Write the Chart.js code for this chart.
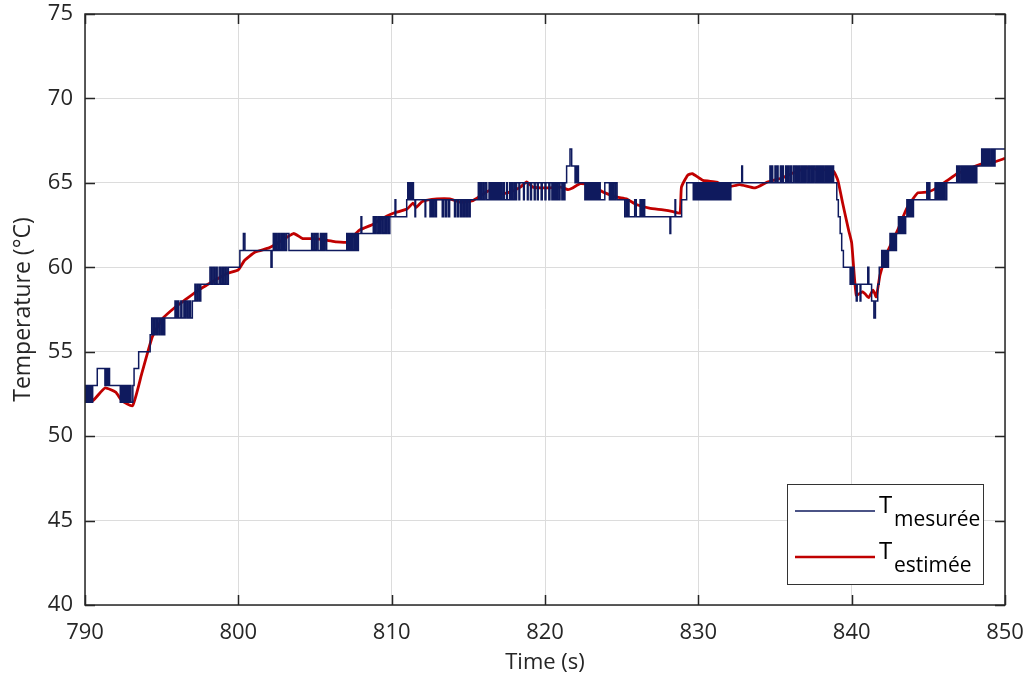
<!DOCTYPE html>
<html>
<head>
<meta charset="utf-8">
<script src="https://cdn.jsdelivr.net/npm/chart.js@4/dist/chart.umd.min.js"></script>
<style>
  html, body { margin: 0; padding: 0; background: #fff; }
  #wrap { width: 1028px; height: 681px; }
</style>
</head>
<body>
<div id="wrap"><canvas id="chart" width="1028" height="681"></canvas></div>
<script>
// axes
const xTicks = [790, 800, 810, 820, 830, 840, 850];
const yTicks = [40, 45, 50, 55, 60, 65, 70, 75];

// T mesurée : [temps (s), valeur (°C)], valeur tenue jusqu'au point suivant
const tMesuree = [
  [790,53],[790.05,52],[790.12,53],[790.18,52],[790.25,53],[790.3,52],[790.38,53],[790.45,52],[790.5,53],
  [790.8,54],[791.3,53],[791.36,54],[791.45,53],[791.52,54],[791.6,53],
  [792.3,52],[792.36,53],[792.42,52],[792.5,53],[792.56,52],[792.64,53],[792.7,52],[792.78,53],[792.85,52],[792.92,53],[793.0,52],
  [793.12,53],[793.2,54],[793.5,55],[794.25,56],[794.35,57],[794.45,56],[794.55,57],[794.65,56],[794.72,57],[794.82,56],[794.9,57],[795.0,56],[795.08,57],[795.15,56],[795.2,57],
  [795.87,58],[795.95,57],[796.05,58],[796.12,57],[796.25,58],[796.32,57],[796.45,58],[796.52,57],[796.6,58],[796.7,57],[796.8,58],[796.88,57],[797.0,58],
  [797.17,59],[797.25,58],[797.35,59],[797.45,58],[797.55,59],
  [798.15,60],[798.25,59],[798.35,60],[798.45,59],[798.55,60],[798.62,59],[798.75,60],[798.85,59],[798.95,60],[799.05,59],[799.15,60],[799.25,59],[799.35,60],
  [800.1,61],[800.33,62],[800.43,61],[802.13,60],[802.2,61],[802.28,62],[802.36,61],[802.45,62],[802.52,61],[802.62,62],[802.7,61],[802.8,62],[802.88,61],[802.97,62],[803.05,61],[803.15,62],[803.3,61],
  [804.78,62],[804.85,61],[804.95,62],[805.0,61],[805.1,62],[805.2,61],[805.35,62],[805.42,61],[805.5,62],[805.58,61],[805.66,62],[805.76,61],
  [807.07,62],[807.15,61],[807.22,62],[807.3,61],[807.38,62],[807.45,61],[807.55,62],[807.62,61],[807.7,62],[807.78,61],[807.83,62],
  [808.0,63],[808.05,62],
  [808.8,63],[808.88,62],[808.95,63],[809.05,62],[809.15,63],[809.22,62],[809.3,63],[809.4,62],[809.5,63],[809.6,62],[809.68,63],[809.78,62],[809.88,63],
  [810.22,64],[810.27,63],[810.98,64],[811.05,65],[811.12,64],[811.2,65],[811.28,64],[811.35,65],[811.42,64],[811.52,63],[811.56,64],[812.18,63],[812.22,64],
  [812.5,63],[812.58,64],[812.68,63],[812.75,64],[812.85,63],[812.92,64],[813.3,63],[813.38,64],[813.5,63],[813.58,64],[813.7,63],[813.78,64],
  [814.1,63],[814.18,64],[814.3,63],[814.38,64],[814.5,63],[814.58,64],[814.68,63],[814.76,64],[814.86,63],[814.95,64],[815.05,63],[815.12,64],
  [815.65,65],[815.72,64],[815.8,65],[815.85,64],[815.95,65],[816.0,64],[816.1,65],[816.2,64],[816.35,65],[816.42,64],[816.5,65],[816.55,64],[816.62,65],[816.68,64],
  [816.75,65],[816.8,64],[816.88,65],[816.95,64],[817.02,65],[817.08,64],[817.15,65],[817.2,64],[817.3,65],[817.35,64],[817.5,65],[817.55,64],[817.7,65],[817.76,64],
  [817.85,65],[817.9,64],[818.0,65],[818.06,64],[818.15,65],[818.3,64],[818.35,65],[818.6,64],[818.65,65],[818.85,64],[818.9,65],[819.05,64],[819.12,65],[819.3,64],
  [819.36,65],[819.5,64],[819.56,65],[819.75,64],[819.82,65],[820.0,64],[820.06,65],[820.25,64],[820.32,65],[820.45,64],[820.5,65],[820.58,64],[820.66,65],[820.75,64],
  [820.8,65],[820.9,64],[820.98,65],[821.1,64],[821.16,65],[821.25,64],[821.3,65],
  [821.41,66],[821.63,67],[821.74,66],[821.96,65],[822.0,66],[822.05,65],[822.1,66],[822.18,65],
  [822.6,64],[822.65,65],[822.72,64],[822.8,65],[822.88,64],[822.95,65],[823.0,64],[823.08,65],[823.15,64],[823.22,65],[823.3,64],[823.38,65],[823.45,64],[823.52,65],
  [823.6,64],[823.9,65],[824.2,64],[824.28,65],[824.35,64],[824.42,65],[824.5,64],[824.6,65],[824.7,64],
  [825.2,63],[825.3,64],[825.35,63],[825.42,64],[825.48,63],[825.85,64],[825.95,63],[826.2,64],[826.26,63],[826.32,64],[826.38,63],[826.45,64],[826.5,63],
  [828.15,62],[828.2,63],[828.48,64],[828.52,63],[828.91,64],[829.24,65],
  [829.67,64],[829.75,65],[829.8,64],[829.88,65],[829.95,64],[830.02,65],[830.1,64],[830.18,65],[830.25,64],[830.32,65],[830.4,64],[830.48,65],[830.55,64],[830.62,65],
  [830.7,64],[830.78,65],[830.85,64],[830.92,65],[831.0,64],[831.08,65],[831.15,64],[831.22,65],[831.3,64],[831.38,65],[831.45,64],[831.52,65],[831.6,64],[831.68,65],
  [831.75,64],[831.82,65],[831.9,64],[831.98,65],[832.05,64],[832.12,65],
  [832.83,66],[832.88,65],
  [834.67,66],[834.72,65],[834.8,66],[834.85,65],[835.0,66],[835.05,65],[835.15,66],[835.2,65],[835.35,66],[835.42,65],[835.5,66],[835.55,65],[835.7,66],[835.78,65],
  [835.85,66],[835.9,65],[836.0,66],[836.08,65],[836.2,66],[836.3,65],[836.38,66],[836.45,65],[836.55,66],[836.6,65],[836.7,66],[836.78,65],[836.85,66],[836.92,65],
  [837.0,66],[837.1,65],[837.2,66],[837.25,65],[837.35,66],[837.42,65],[837.5,66],[837.6,65],[837.7,66],[837.78,65],[837.85,66],[837.92,65],[838.0,66],[838.08,65],
  [838.15,66],[838.2,65],[838.3,66],[838.38,65],[838.45,66],[838.52,65],[838.6,66],[838.68,65],[838.75,66],[838.82,65],
  [839.03,64],[839.13,63],[839.25,62],[839.35,61],[839.46,60],[839.9,59],[839.96,60],[840.03,59],[840.08,60],[840.13,59],[840.3,58],[840.36,59],[840.55,58],[840.6,59],
  [841.05,60],[841.12,59],[841.3,58],[841.45,57],[841.55,58],[841.7,59],[841.8,60],
  [841.96,61],[842.02,60],[842.1,61],[842.17,60],[842.25,61],[842.32,60],[842.4,61],[842.5,62],[842.56,61],[842.64,62],[842.7,61],[842.78,62],[842.85,61],[842.92,62],
  [843.05,63],[843.12,62],[843.2,63],[843.28,62],[843.36,63],[843.45,62],[843.52,63],[843.6,64],[843.66,63],[843.74,64],[843.82,63],[843.9,64],[843.96,63],[844.03,64],
  [844.9,65],[844.98,64],[845.05,65],[845.1,64],[845.44,65],[845.5,64],[845.58,65],[845.65,64],[845.72,65],[845.8,64],[845.88,65],[845.95,64],[846.02,65],[846.1,64],[846.2,65],
  [846.85,66],[846.92,65],[847.0,66],[847.05,65],[847.15,66],[847.22,65],[847.3,66],[847.38,65],[847.45,66],[847.52,65],[847.6,66],[847.68,65],[847.75,66],[847.82,65],
  [847.9,66],[847.98,65],[848.05,66],[848.1,65],[848.16,66],
  [848.48,67],[848.55,66],[848.62,67],[848.7,66],[848.78,67],[848.85,66],[848.92,67],[849.0,66],[849.1,67],[849.18,66],[849.25,67],[849.3,66],[849.35,67],[850,67]
];

// T estimée : [temps (s), valeur (°C)]
const tEstimee = [
  [790,52.4],[790.5,52.1],[791.3,52.85],[792.0,52.6],[792.4,52.1],[793.1,51.8],[793.7,53.7],[794.4,55.9],[795.1,57.0],[795.9,57.65],
  [796.5,58.05],[797.4,58.65],[798.7,59.35],[799.3,59.65],[800.0,59.85],[800.4,60.4],[801.1,60.9],[802.0,61.15],[802.6,61.45],[803.6,62.0],
  [804.2,61.7],[804.9,61.7],[805.8,61.6],[806.4,61.5],[807.1,61.5],[807.9,62.2],[808.8,62.55],[809.2,62.8],[810.1,63.2],[811.0,63.45],
  [811.4,63.8],[811.6,63.55],[812.0,63.9],[812.95,64.05],[813.8,64.05],[814.5,63.85],[815.3,63.95],[815.9,64.3],[816.5,64.6],[816.9,64.3],
  [817.7,64.45],[818.4,64.75],[818.8,65.05],[819.2,64.75],[820.1,64.7],[821.0,64.75],[821.5,64.6],[821.8,64.7],[822.3,64.95],[822.9,64.9],
  [823.8,64.45],[824.7,64.15],[825.3,64.05],[826.0,63.7],[826.8,63.5],[827.7,63.4],[828.35,63.3],[828.8,63.2],[828.9,64.75],[829.3,65.45],
  [829.6,65.55],[830.3,65.15],[831.2,65.05],[831.9,64.75],[832.7,64.9],[833.7,64.7],[834.5,65.05],[835.5,65.3],[836.2,65.6],[837.2,65.9],
  [837.7,65.8],[838.8,65.7],[839.1,65.15],[839.4,63.85],[839.8,62.2],[840.0,61.45],[840.3,58.35],[840.7,58.55],[840.9,58.4],[841.1,58.2],
  [841.4,58.65],[841.6,58.25],[841.85,59.55],[842.3,60.85],[843.0,62.2],[843.6,63.5],[844.3,64.4],[844.9,64.45],[845.35,64.6],[846.25,65.15],
  [846.9,65.55],[847.7,65.85],[848.6,66.15],[849.2,66.2],[850,66.45]
];

const BLUE = '#0f1a5e';
const RED = '#c00000';
const FONT = 'Open Sans';

// cadre, graduations intérieures et légende
const cadrePlugin = {
  id: 'cadre',
  afterDraw(chart) {
    const ctx = chart.ctx;
    const a = chart.chartArea;
    const sx = chart.scales.x, sy = chart.scales.y;
    ctx.save();
    ctx.strokeStyle = '#262626';
    ctx.lineWidth = 1.5;
    ctx.strokeRect(a.left, a.top, a.right - a.left, a.bottom - a.top);
    ctx.beginPath();
    xTicks.forEach(v => {
      const px = Math.round(sx.getPixelForValue(v)) + 0.5;
      ctx.moveTo(px, a.bottom); ctx.lineTo(px, a.bottom - 10);
      ctx.moveTo(px, a.top); ctx.lineTo(px, a.top + 10);
    });
    yTicks.forEach(v => {
      const py = Math.round(sy.getPixelForValue(v)) + 0.5;
      ctx.moveTo(a.left, py); ctx.lineTo(a.left + 10, py);
      ctx.moveTo(a.right, py); ctx.lineTo(a.right - 10, py);
    });
    ctx.stroke();

    // légende
    const lx = 787, ly = 484, lw = 196, lh = 100;
    ctx.fillStyle = '#fff';
    ctx.fillRect(lx, ly, lw, lh);
    ctx.strokeStyle = '#333';
    ctx.lineWidth = 1;
    ctx.strokeRect(lx + 0.5, ly + 0.5, lw, lh);
    const items = [
      { sub: 'mesurée', color: BLUE, width: 1.5, y: 511 },
      { sub: 'estimée', color: RED, width: 2.5, y: 557 }
    ];
    items.forEach(it => {
      ctx.strokeStyle = it.color;
      ctx.lineWidth = it.width;
      ctx.beginPath();
      ctx.moveTo(795, it.y); ctx.lineTo(875, it.y);
      ctx.stroke();
      ctx.fillStyle = '#000';
      ctx.textBaseline = 'alphabetic';
      ctx.textAlign = 'left';
      ctx.font = '24px "' + FONT + '"';
      ctx.fillText('T', 879, it.y + 2);
      ctx.font = '21px "' + FONT + '"';
      ctx.fillText(it.sub, 894, it.y + 15);
    });
    ctx.restore();
  }
};

const ctx = document.getElementById('chart').getContext('2d');
new Chart(ctx, {
  type: 'line',
  data: {
    datasets: [
      {
        label: 'T mesurée',
        data: tMesuree.map(p => ({ x: p[0], y: p[1] })),
        borderColor: BLUE,
        borderWidth: 1.5,
        stepped: true,
        pointRadius: 0,
        fill: false
      },
      {
        label: 'T estimée',
        data: tEstimee.map(p => ({ x: p[0], y: p[1] })),
        borderColor: RED,
        borderWidth: 2.8,
        tension: 0.15,
        pointRadius: 0,
        fill: false
      }
    ]
  },
  options: {
    responsive: false,
    animation: false,
    layout: { padding: { left: 0, top: 14, right: 23, bottom: 0 } },
    plugins: {
      legend: { display: false },
      tooltip: { enabled: false }
    },
    scales: {
      x: {
        type: 'linear',
        min: 790,
        max: 850,
        afterBuildTicks: s => { s.ticks = xTicks.map(v => ({ value: v })); },
        afterFit: s => { s.height = 76; s.paddingLeft = 0; s.paddingRight = 0; },
        grid: { color: '#dcdcdc', lineWidth: 1, drawTicks: false },
        border: { display: false },
        ticks: { color: '#262626', padding: 15, font: { family: FONT, size: 22 } },
        title: {
          display: true, text: 'Time (s)', color: '#262626',
          font: { family: FONT, size: 22 }, padding: { top: 0, bottom: 5 }
        }
      },
      y: {
        min: 40,
        max: 75,
        afterBuildTicks: s => { s.ticks = yTicks.map(v => ({ value: v })); },
        afterFit: s => { s.width = 85; s.paddingTop = 0; s.paddingBottom = 0; },
        grid: { color: '#dcdcdc', lineWidth: 1, drawTicks: false },
        border: { display: false },
        ticks: { color: '#262626', padding: 12, font: { family: FONT, size: 22 } },
        title: {
          display: true, text: 'Temperature (°C)', color: '#262626',
          font: { family: FONT, size: 23 }, padding: { top: 10, bottom: 0 }
        }
      }
    }
  },
  plugins: [cadrePlugin]
});
</script>
</body>
</html>
